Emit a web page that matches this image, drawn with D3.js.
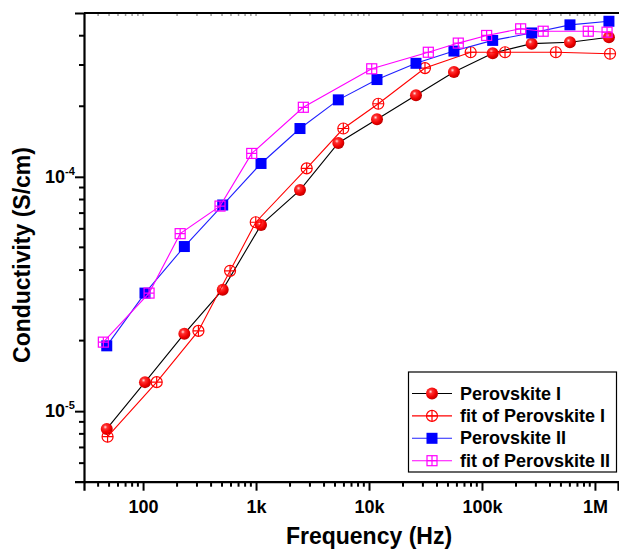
<!DOCTYPE html>
<html>
<head>
<meta charset="utf-8">
<script src="https://cdn.jsdelivr.net/npm/d3@7"></script>
<style>
  body { margin: 0; background: #fff; }
  svg { display: block; font-family: "Liberation Sans", Arial, sans-serif; }
</style>
</head>
<body>
<svg id="chart" width="619" height="549"></svg>
<script>
// frequency (Hz) of the measured points
const freqMeas = [47.7, 104, 232, 507, 1107, 2449, 5349, 11770, 26060, 56490, 124400, 275400, 601000, 1330000];
const perovI = [8.4e-6, 1.33e-5, 2.14e-5, 3.3e-5, 6.23e-5, 8.78e-5, 1.395e-4, 1.76e-4, 2.23e-4, 2.8e-4, 3.37e-4, 3.7e-4, 3.75e-4, 3.94e-4];
const perovII = [1.9e-5, 3.19e-5, 5.04e-5, 7.58e-5, 1.14e-4, 1.607e-4, 2.13e-4, 2.6e-4, 3.05e-4, 3.44e-4, 3.82e-4, 4.11e-4, 4.45e-4, 4.61e-4];

const freqFitI = [48.5, 132, 309, 589, 994, 2808, 5925, 12080, 31300, 79400, 160000, 451000, 1360000];
const fitI = [7.78e-6, 1.33e-5, 2.2e-5, 3.97e-5, 6.4e-5, 1.086e-4, 1.607e-4, 2.05e-4, 2.91e-4, 3.4e-4, 3.4e-4, 3.4e-4, 3.35e-4];

const freqFitII = [44.5, 113, 213, 480, 916, 2622, 10570, 33500, 61700, 110000, 220000, 348000, 873000, 1280000];
const fitII = [1.97e-5, 3.19e-5, 5.72e-5, 7.5e-5, 1.258e-4, 1.98e-4, 2.89e-4, 3.4e-4, 3.72e-4, 4.01e-4, 4.28e-4, 4.18e-4, 4.18e-4, 4.14e-4];

const xMajor = [100, 1e3, 1e4, 1e5, 1e6];
const xLabels = ["100", "1k", "10k", "100k", "1M"];
const yMajor = [1e-5, 1e-4];
const yExp = ["-5", "-4"];

const svg = d3.select("#chart");
const pLeft = 84, pRight = 618, pTop = 13, pBottom = 481.7;

const x = d3.scaleLog().domain([30, 1.6e6]).range([pLeft, pRight]);
const y = d3.scaleLog().domain([5e-6, 5e-4]).range([pBottom, pTop]);

// minor ticks
function minors(lo, hi) {
  const out = [];
  for (let e = Math.floor(Math.log10(lo)); e <= Math.ceil(Math.log10(hi)); e++) {
    for (let m = 2; m <= 9; m++) {
      const v = m * Math.pow(10, e);
      if (v > lo * 1.001 && v < hi * 0.999) out.push(v);
    }
  }
  return out;
}
const xMinor = minors(30, 1.6e6);
const yMinor = minors(5e-6, 5e-4);

const defs = svg.append("defs");
const grad = defs.append("radialGradient").attr("id", "ball")
  .attr("cx", "38%").attr("cy", "35%").attr("r", "65%");
grad.append("stop").attr("offset", "0%").attr("stop-color", "#ffe0e0");
grad.append("stop").attr("offset", "25%").attr("stop-color", "#ff3030");
grad.append("stop").attr("offset", "70%").attr("stop-color", "#f00000");
grad.append("stop").attr("offset", "100%").attr("stop-color", "#c00000");

// x axis
const gx = svg.append("g").attr("transform", "translate(0," + pBottom + ")");
gx.call(d3.axisBottom(x).tickValues(xMajor).tickFormat((d, i) => xLabels[i]).tickSize(9).tickPadding(10));
gx.append("g").selectAll("line").data(xMinor).join("line")
  .attr("x1", d => x(d)).attr("x2", d => x(d)).attr("y1", 0).attr("y2", 5)
  .attr("stroke", "#000").attr("stroke-width", 2);

// y axis
const gy = svg.append("g").attr("transform", "translate(" + pLeft + ",0)");
gy.call(d3.axisLeft(y).tickValues(yMajor).tickFormat("").tickSize(9));
gy.append("g").selectAll("line").data(yMinor).join("line")
  .attr("y1", d => y(d)).attr("y2", d => y(d)).attr("x1", 0).attr("x2", -5)
  .attr("stroke", "#000").attr("stroke-width", 2);
yMajor.forEach((v, i) => {
  svg.append("text").attr("x", 65).attr("y", y(v) + 6)
    .attr("text-anchor", "end").attr("font-size", 18).attr("font-weight", "bold").text("10");
  svg.append("text").attr("x", 65).attr("y", y(v) - 2)
    .attr("font-size", 11).attr("font-weight", "bold").text(yExp[i]);
});

[gx, gy].forEach(g => {
  g.select(".domain").attr("stroke-width", 2.2);
  g.selectAll(".tick line").attr("stroke-width", 2);
  g.selectAll(".tick text").attr("font-size", 18).attr("font-weight", "bold")
    .attr("font-family", "Liberation Sans, Arial, sans-serif").attr("fill", "#000");
});

// top border with faint inward ticks
svg.append("line").attr("x1", pLeft).attr("x2", 619).attr("y1", pTop).attr("y2", pTop)
  .attr("stroke", "#000").attr("stroke-width", 2.2);
svg.append("g").selectAll("line").data(xMinor.concat(xMajor)).join("line")
  .attr("x1", d => x(d)).attr("x2", d => x(d)).attr("y1", pTop + 1).attr("y2", pTop + 3)
  .attr("stroke", "#999").attr("stroke-width", 1.5);

// axis titles
svg.append("text").attr("x", 369).attr("y", 544).attr("text-anchor", "middle")
  .attr("font-size", 23).attr("font-weight", "bold").text("Frequency (Hz)");
svg.append("text").attr("transform", "translate(30,255) rotate(-90)").attr("text-anchor", "middle")
  .attr("font-size", 23).attr("font-weight", "bold").text("Conductivity (S/cm)");

// markers
function marker(g, kind, cx, cy) {
  if (kind === "ball") {
    g.append("circle").attr("cx", cx).attr("cy", cy).attr("r", 6).attr("fill", "url(#ball)");
  } else if (kind === "ocircle") {
    g.append("circle").attr("cx", cx).attr("cy", cy).attr("r", 5.5)
      .attr("fill", "none").attr("stroke", "#ff0000").attr("stroke-width", 1.2);
    g.append("path").attr("d", `M${cx - 5.5},${cy}H${cx + 5.5}M${cx},${cy - 5.5}V${cy + 5.5}`)
      .attr("stroke", "#ff0000").attr("stroke-width", 1.2);
  } else if (kind === "square") {
    g.append("rect").attr("x", cx - 5.5).attr("y", cy - 5.5).attr("width", 11).attr("height", 11)
      .attr("fill", "#0000ff");
  } else {
    g.append("rect").attr("x", cx - 5).attr("y", cy - 5).attr("width", 10).attr("height", 10)
      .attr("fill", "none").attr("stroke", "#ff00ff").attr("stroke-width", 1.2);
    g.append("path").attr("d", `M${cx - 5},${cy}H${cx + 5}M${cx},${cy - 5}V${cy + 5}`)
      .attr("stroke", "#ff00ff").attr("stroke-width", 1.2);
  }
}

const series = [
  { name: "Perovskite I", fx: freqMeas, vy: perovI, line: "#000000", kind: "ball" },
  { name: "fit of Perovskite I", fx: freqFitI, vy: fitI, line: "#ff0000", kind: "ocircle" },
  { name: "Perovskite II", fx: freqMeas, vy: perovII, line: "#2020ff", kind: "square" },
  { name: "fit of Perovskite II", fx: freqFitII, vy: fitII, line: "#ff00ff", kind: "osquare" }
];

const line = d3.line().x(d => x(d[0])).y(d => y(d[1]));
series.forEach(s => {
  const pts = s.fx.map((f, i) => [f, s.vy[i]]);
  const g = svg.append("g");
  g.append("path").datum(pts).attr("d", line).attr("fill", "none")
    .attr("stroke", s.line).attr("stroke-width", 1.1);
  pts.forEach(p => marker(g, s.kind, x(p[0]), y(p[1])));
});

// legend
const lg = svg.append("g");
lg.append("rect").attr("x", 408.5).attr("y", 372).attr("width", 208).attr("height", 100)
  .attr("fill", "#fff").attr("stroke", "#000").attr("stroke-width", 1.2);
series.forEach((s, i) => {
  const cy = 393.5 + i * 22.4;
  lg.append("line").attr("x1", 412).attr("x2", 452).attr("y1", cy).attr("y2", cy)
    .attr("stroke", s.line).attr("stroke-width", 1.1);
  marker(lg, s.kind, 432, cy);
  lg.append("text").attr("x", 460).attr("y", cy + 6).attr("font-size", 18)
    .attr("font-weight", "bold").text(s.name);
});
</script>
</body>
</html>
